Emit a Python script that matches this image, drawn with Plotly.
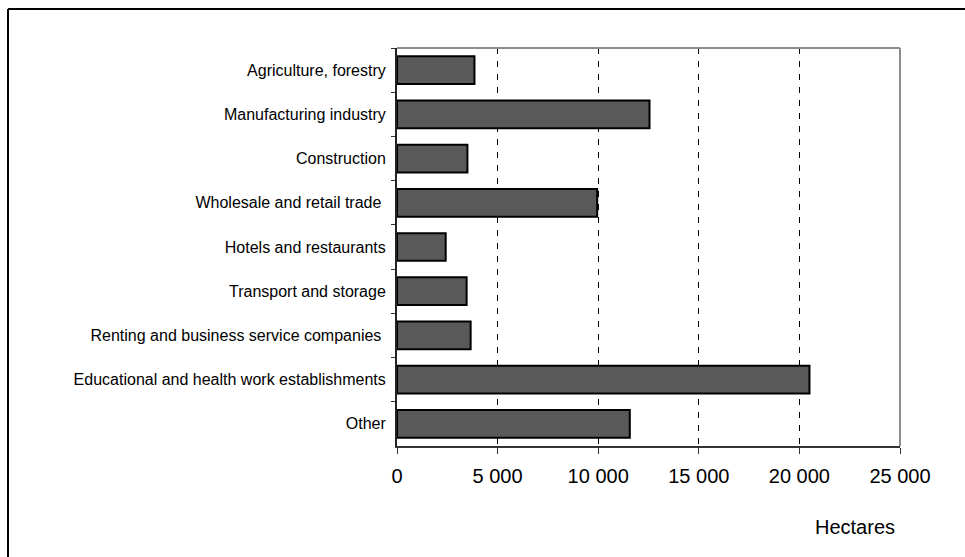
import plotly.graph_objects as go

categories = [
    "Agriculture, forestry",
    "Manufacturing industry",
    "Construction",
    "Wholesale and retail trade\u00a0",
    "Hotels and restaurants",
    "Transport and storage",
    "Renting and business service companies\u00a0",
    "Educational and health work establishments",
    "Other",
]
hectares = [3850, 12550, 3500, 9950, 2420, 3460, 3660, 20500, 11570]
x_ticks = [0, 5000, 10000, 15000, 20000, 25000]

W, H = 965, 557
L, R, T, B = 397, 900, 48, 446


def px(xp):
    return (xp - L) / (R - L)


def py(yp):
    return (B - yp) / (B - T)


fig = go.Figure(
    go.Bar(
        x=hectares,
        y=categories,
        orientation="h",
        marker=dict(color="#595959", line=dict(color="#000000", width=2)),
        hoverinfo="x+y",
    )
)

fig.update_layout(
    width=W,
    height=H,
    margin=dict(l=L, r=W - R, t=T, b=H - B, pad=0),
    paper_bgcolor="white",
    plot_bgcolor="white",
    bargap=0.373,
    separators=". ",
    showlegend=False,
    font=dict(family="Liberation Sans, Arial, sans-serif", color="#000000"),
    xaxis=dict(
        range=[0, 25000],
        tickvals=x_ticks,
        tickformat=",d",
        showgrid=True,
        gridcolor="#000000",
        gridwidth=1,
        griddash="6px,7px",
        zeroline=False,
        showline=True,
        linecolor="#333333",
        linewidth=2,
        ticks="outside",
        ticklen=6,
        tickcolor="#333333",
        tickfont=dict(size=20),
        ticklabelstandoff=5,
        fixedrange=True,
    ),
    yaxis=dict(
        autorange="reversed",
        showgrid=False,
        zeroline=False,
        showline=True,
        linecolor="#222222",
        linewidth=2,
        ticks="outside",
        tickson="boundaries",
        ticklen=4,
        tickcolor="#333333",
        tickfont=dict(size=16),
        ticklabelstandoff=6,
        fixedrange=True,
    ),
    annotations=[
        dict(
            text="Hectares",
            xref="paper",
            yref="paper",
            x=px(855),
            y=py(527),
            xanchor="center",
            yanchor="middle",
            showarrow=False,
            font=dict(size=20),
        )
    ],
    shapes=[
        # plot-area border (top and right)
        dict(type="line", xref="paper", yref="paper", x0=0, x1=1, y0=1, y1=1,
             line=dict(color="#8c8c8c", width=2)),
        dict(type="line", xref="paper", yref="paper", x0=1, x1=1, y0=0, y1=1,
             line=dict(color="#8c8c8c", width=2)),
        # outer frame (top and left)
        dict(type="line", xref="paper", yref="paper", x0=px(8), x1=px(W + 5),
             y0=py(9), y1=py(9), line=dict(color="#000000", width=2)),
        dict(type="line", xref="paper", yref="paper", x0=px(8), x1=px(8),
             y0=py(9), y1=py(H + 5), line=dict(color="#000000", width=2)),
    ],
)

fig.write_html("out.html")
